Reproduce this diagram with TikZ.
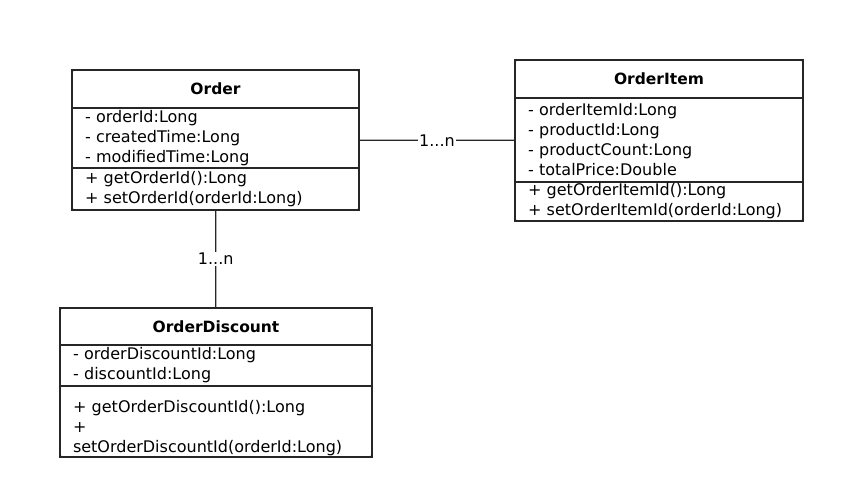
\documentclass[tikz,border=0pt]{standalone}
\usepackage{fontspec}
\setmainfont{DejaVu Sans}
\usetikzlibrary{positioning,fit}

\begin{document}
\begin{tikzpicture}[x=1pt,y=-1pt,
  box/.style={draw=black!85, line width=1.3pt, outer sep=0pt, inner xsep=13pt, inner ysep=0pt, anchor=north west, align=left, font=\fontsize{16}{20}\selectfont},
  head/.style={box, align=center, font=\fontsize{15.5}{18}\selectfont\bfseries},
  frame/.style={draw=black!85, line width=1.5pt, rounded corners=2pt, inner sep=0pt},
  link/.style={draw=black!85, line width=1.3pt},
  mult/.style={fill=white, inner sep=1pt, font=\fontsize{16}{16}\selectfont}]
\useasboundingbox (0,0) rectangle (842,497);

% Order
\node[head, text width=261pt, minimum height=38pt] (orderhead) at (72,70) {Order};
\node[box, text width=261pt, minimum height=60pt, below=0pt of orderhead] (orderattr)
  {- orderId:Long\\- createdTime:Long\\- modifiedTime:Long};
\node[box, text width=261pt, minimum height=42pt, below=0pt of orderattr] (ordermeth)
  {+ getOrderId():Long\\+ setOrderId(orderId:Long)};
\node[frame, fit=(orderhead)(ordermeth)] (order) {};

% OrderItem
\node[head, text width=262pt, minimum height=38pt] (itemhead) at (515,60) {OrderItem};
\node[box, text width=262pt, minimum height=84pt, below=0pt of itemhead] (itemattr)
  {- orderItemId:Long\\- productId:Long\\- productCount:Long\\- totalPrice:Double};
\node[box, text width=262pt, minimum height=39pt, below=0pt of itemattr] (itemmeth)
  {+ getOrderItemId():Long\\+ setOrderItemId(orderId:Long)};
\node[frame, fit=(itemhead)(itemmeth)] (orderitem) {};

% OrderDiscount
\node[head, text width=286pt, minimum height=37pt] (discounthead) at (60,308) {OrderDiscount};
\node[box, text width=286pt, minimum height=41pt, below=0pt of discounthead] (discountattr)
  {- orderDiscountId:Long\\- discountId:Long};
\node[box, text width=286pt, minimum height=71pt, below=0pt of discountattr] (discountmeth)
  {\rule{0pt}{26pt}+ getOrderDiscountId():Long\\+\\setOrderDiscountId(orderId:Long)};
\node[frame, fit=(discounthead)(discountmeth)] (orderdiscount) {};

% associations
\draw[link] (order) -- node[mult] {1...n} (orderitem);
\draw[link] (order) -- node[mult] {1...n} (orderdiscount);
\end{tikzpicture}
\end{document}
